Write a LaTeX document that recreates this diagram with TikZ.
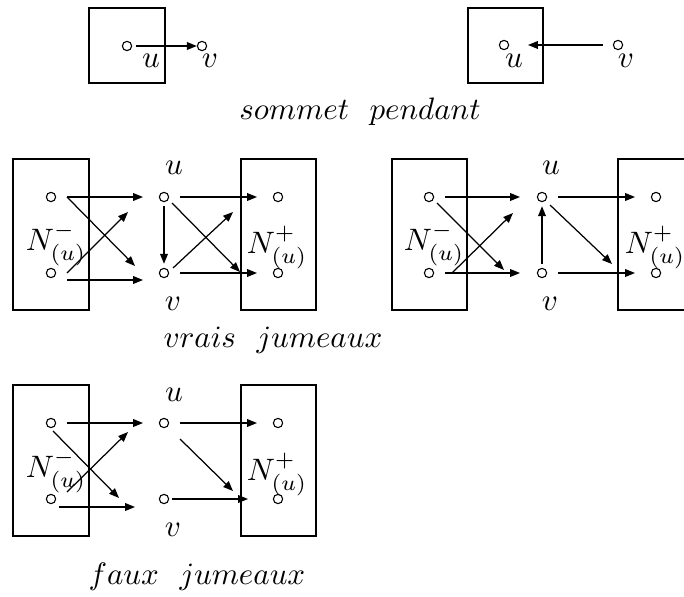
\documentclass[tikz,border=0pt]{standalone}
\usetikzlibrary{arrows.meta}
\newcommand\arw[3]{\coordinate (#1s) at (#2); \coordinate (#1e) at (#3); \draw[arr] (#1s) -- (#1e);}
\tikzset{
  vtx/.style={circle,draw,inner sep=0pt,minimum size=3pt,line width=0.35pt},
  arr/.style={-{Triangle[length=3.2pt,width=2.5pt]},line width=0.4pt},
  boxl/.style={draw,line width=0.42pt},
  lab/.style={anchor=base,inner sep=0pt}
}
\begin{document}
\begin{tikzpicture}[x=0.3226pt,y=-0.3226pt]
\useasboundingbox (0,0) rectangle (684,596);
\clip (0,0) rectangle (684,596);
% ---------- sommet pendant ----------
\draw[boxl] (89,8) rectangle (165,83);
\node[vtx] (tu1) at (127,46) {};
\node[vtx] (tv1) at (202,46) {};
\node[lab] (tlu1) at (151,68) {$u$};
\node[lab] (tlv1) at (210,68) {$v$};
\draw[arr,shorten <=1.2pt] (tu1) -- (tv1);
\draw[boxl] (468,8) rectangle (543,83);
\node[vtx] (tu2) at (504,45) {};
\node[vtx] (tv2) at (618,45) {};
\node[lab] (tlu2) at (514,68) {$u$};
\node[lab] (tlv2) at (626,68) {$v$};
\arw{t2}{603,45}{528,45}
\node[lab] (cap1) at (360,120) {$sommet\ \ pendant$};
% ---------- vrais jumeaux (gauche) ----------
\draw[boxl] (13,159) rectangle (89,310);
\draw[boxl] (241,159) rectangle (316,310);
\node[vtx] (ma) at (51,197) {};
\node[vtx] (mb) at (51,273) {};
\node[vtx] (mu) at (164,197) {};
\node[vtx] (mv) at (164,273) {};
\node[vtx] (mc) at (278,197) {};
\node[vtx] (md) at (278,273) {};
\node[lab] (mlu) at (174,175) {$u$};
\node[lab] (mlv) at (173,310) {$v$};
\node[lab] (mnm) at (56,250) {$N^-_{(u)}$};
\node[lab] (mnp) at (277,253) {$N^+_{(u)}$};
\arw{a1}{67,197}{143,197}
\arw{a2}{67,197}{135,266}
\arw{a3}{67,273}{128,212}
\arw{a4}{67,280}{143,280}
\draw[arr,shorten <=1.3pt,shorten >=1.3pt] (mu) -- (mv);
\arw{a6}{180,197}{257,197}
\arw{a7}{172,203}{240,272}
\arw{a8}{173,268}{233,212}
\arw{a9}{180,273}{257,273}
% ---------- vrais jumeaux (droite) ----------
\draw[boxl] (392,159) rectangle (467,310);
\draw[boxl] (618,159) rectangle (694,310);
\node[vtx] (ra) at (429,197) {};
\node[vtx] (rb) at (429,273) {};
\node[vtx] (ru) at (542,197) {};
\node[vtx] (rv) at (542,273) {};
\node[vtx] (rc) at (656,197) {};
\node[vtx] (rd) at (656,273) {};
\node[lab] (rlu) at (551,175) {$u$};
\node[lab] (rlv) at (550,310) {$v$};
\node[lab] (rnm) at (434,250) {$N^-_{(u)}$};
\node[lab] (rnp) at (655,253) {$N^+_{(u)}$};
\arw{b1}{445,197}{520,197}
\arw{b2}{437,203}{504,270}
\arw{b3}{452,273}{513,213}
\arw{b4}{445,273}{520,273}
\draw[arr,shorten <=1.3pt,shorten >=1.3pt] (rv) -- (ru);
\arw{b6}{558,197}{635,197}
\arw{b7}{550,205}{612,264}
\arw{b8}{558,273}{635,273}
\node[lab] (cap2) at (273,347) {$vrais\ \ jumeaux$};
% ---------- faux jumeaux ----------
\draw[boxl] (13,385) rectangle (89,536);
\draw[boxl] (241,385) rectangle (316,536);
\node[vtx] (fa) at (51,423) {};
\node[vtx] (fb) at (51,499) {};
\node[vtx] (fu) at (164,423) {};
\node[vtx] (fv) at (164,499) {};
\node[vtx] (fc) at (278,423) {};
\node[vtx] (fd) at (278,499) {};
\node[lab] (flu) at (174,401) {$u$};
\node[lab] (flv) at (173,536) {$v$};
\node[lab] (fnm) at (56,477) {$N^-_{(u)}$};
\node[lab] (fnp) at (277,480) {$N^+_{(u)}$};
\arw{c1}{67,423}{143,423}
\arw{c2}{53,431}{119,498}
\arw{c3}{67,492}{128,432}
\arw{c4}{59,507}{135,507}
\arw{c5}{180,423}{257,423}
\arw{c6}{180,439}{233,491}
\arw{c7}{172,499}{248,499}
\node[lab] (cap3) at (197,584) {$faux\ \ jumeaux$};
\end{tikzpicture}
\end{document}
